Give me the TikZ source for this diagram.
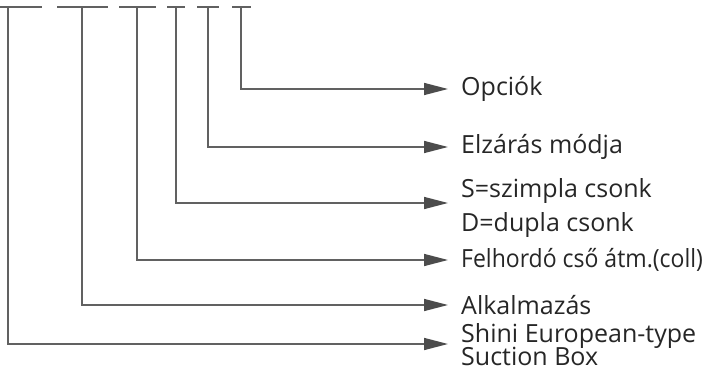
\documentclass[tikz,border=0pt]{standalone}
\usepackage{fontspec}
\setmainfont{Open Sans}
\usetikzlibrary{positioning,arrows.meta}

\begin{document}
\begin{tikzpicture}[
  x=1pt, y=-1pt,
  font=\fontsize{25}{26}\selectfont,
  lbl/.style={anchor=west, inner xsep=13pt, inner ysep=0pt, align=left, text=black!85},
  slot/.style={line width=1.5pt, draw=black!62},
  conn/.style={line width=1.5pt, draw=black!62, -{Triangle[length=24pt, width=12pt, color=black!70]}}
]
\useasboundingbox (0,0) rectangle (708,374);
% code slots along the top
\foreach \a/\b/\m [count=\i] in {0/42/8, 57/108/82, 119/156/137, 167/185/176, 197/219/208, 232/251/241} {
  \draw[slot] (\a,7) -- (\b,7);
  \coordinate (s\i) at (\m,7);
}
% labels
\node[lbl] (opt)  at (448,89)  {Opciók};
\node[lbl] (seal) at (448,147) {Elzárás módja};
\node[lbl] (stub) at (448,208) {S=szimpla csonk\\[8pt]D=dupla csonk};
\node[lbl] (coll) at (448,260) {\scalebox{0.92}[1]{Felhordó cső átm.(coll)}};
\node[lbl] (app)  at (448,305) {Alkalmazás};
\node[lbl] (box)  at (448,345) {Shini European-type\\[-3pt]Suction Box};
% connectors
\draw[conn] (s6) |- (opt);
\draw[conn] (s5) |- (seal);
\draw[conn] (s4) |- ([yshift=5pt]stub.west);
\draw[conn] (s3) |- (coll);
\draw[conn] (s2) |- (app);
\draw[conn] (s1) |- ([yshift=1pt]box.west);
\end{tikzpicture}
\end{document}
